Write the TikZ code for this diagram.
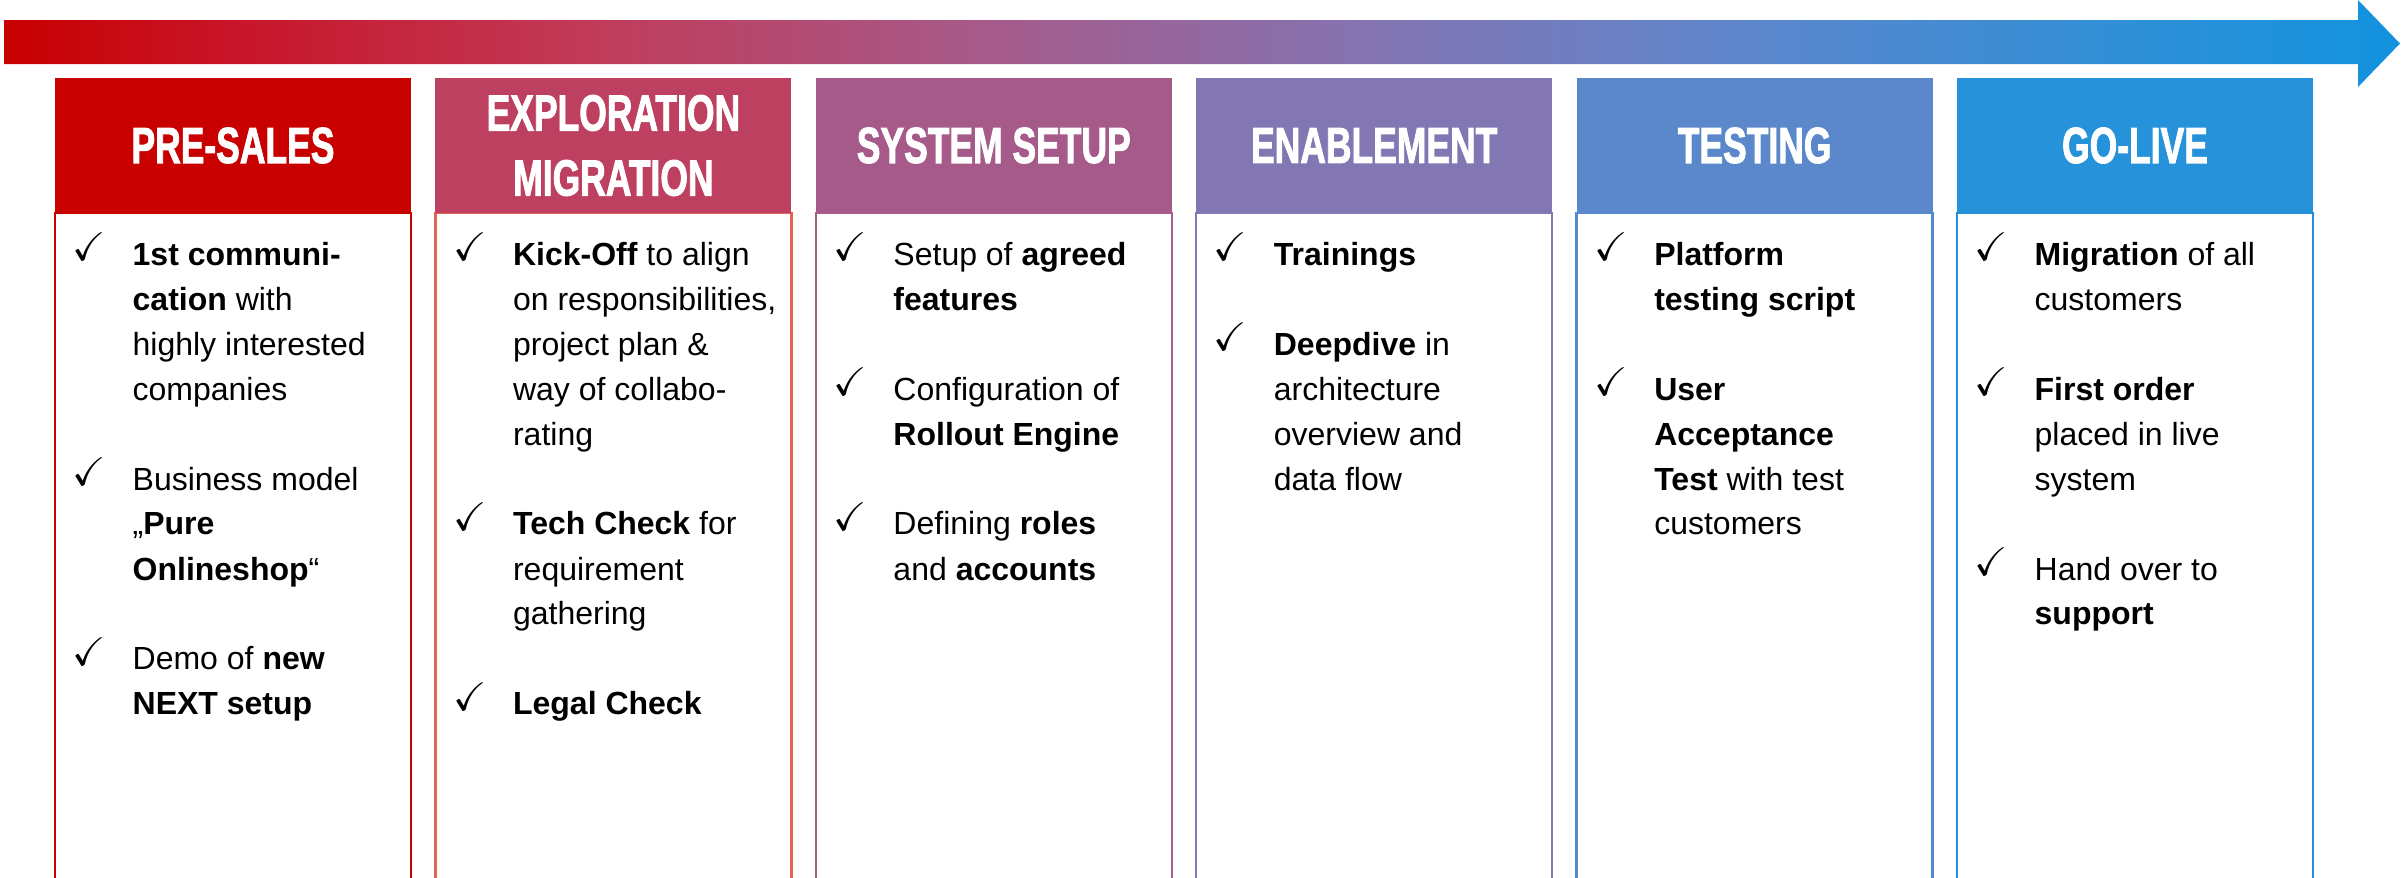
\documentclass[tikz,border=0pt]{standalone}
\usepackage{fontspec}
\usepackage{amssymb}
\usepackage{graphicx}
\setmainfont{Liberation Sans}
\newfontfamily\hdfont{Liberation Sans}[UprightFeatures={FakeBold=2.2}, BoldFeatures={FakeBold=2.2}]
\definecolor{h1}{RGB}{200,0,0}
\definecolor{h2}{RGB}{190,64,96}
\definecolor{h3}{RGB}{165,90,138}
\definecolor{h4}{RGB}{130,119,178}
\definecolor{h5}{RGB}{90,136,202}
\definecolor{h6}{RGB}{38,146,218}
\definecolor{b1}{RGB}{200,0,0}
\definecolor{b2}{RGB}{228,100,84}
\definecolor{b3}{RGB}{170,92,142}
\definecolor{b4}{RGB}{135,120,185}
\definecolor{b5}{RGB}{84,136,210}
\definecolor{b6}{RGB}{40,142,220}
\definecolor{g0}{RGB}{200,0,0}
\definecolor{g1}{RGB}{200,22,42}
\definecolor{g2}{RGB}{192,60,90}
\definecolor{g3}{RGB}{166,90,138}
\definecolor{g4}{RGB}{132,116,178}
\definecolor{g5}{RGB}{92,134,204}
\definecolor{g6}{RGB}{46,144,215}
\definecolor{g7}{RGB}{18,146,222}
\pgfdeclarehorizontalshading{tlshade}{100bp}{color(0bp)=(g0); color(25bp)=(g0); color(30bp)=(g1); color(37.5bp)=(g2); color(45.5bp)=(g3); color(53.5bp)=(g4); color(61.5bp)=(g5); color(69.5bp)=(g6); color(75bp)=(g7); color(100bp)=(g7)}
\newcommand\hd[1]{\scalebox{0.70}[1]{#1}}
\newcommand\ck{\smash{\raisebox{1.4pt}{\scalebox{1.25}{$\checkmark$}}}}
\begin{document}
\begin{tikzpicture}[x=0.3pt,y=-0.3pt,
  hbox/.style={draw=none, inner sep=0, minimum width=106.8pt, minimum height=40.5pt,
    text=white, align=center, font=\fontsize{15.2}{19.5}\selectfont\hdfont\bfseries},
  bbox/.style={fill=white, line width=0.75pt, inner sep=0, minimum width=106.8pt, minimum height=206pt},
  btext/.style={anchor=base west, inner sep=0, font=\fontsize{9.6}{13.5}\selectfont}]
\useasboundingbox (0,0) rectangle (2402,878);
\clip (0,0) rectangle (2402,878);
% timeline arrow
\shade[shading=tlshade] (4,20) -- (2358,20) -- (2358,0) -- (2400,43.5) -- (2358,87) -- (2358,64) -- (4,64) -- cycle;
% body boxes
\node (bd1) [bbox, draw=b1] at (233,556.5) {};
\node (bd2) [bbox, draw=b2] at (613.4,556.5) {};
\node (bd3) [bbox, draw=b3] at (993.8,556.5) {};
\node (bd4) [bbox, draw=b4] at (1374.2,556.5) {};
\node (bd5) [bbox, draw=b5] at (1754.6,556.5) {};
\node (bd6) [bbox, draw=b6] at (2135,556.5) {};
% headers
\node (hd1) [hbox, fill=h1] at (233,145.5) {\hd{PRE-SALES}};
\node (hd2) [hbox, fill=h2] at (613.4,145.5) {\hd{EXPLORATION}\\\hd{MIGRATION}};
\node (hd3) [hbox, fill=h3] at (993.8,145.5) {\hd{SYSTEM SETUP}};
\node (hd4) [hbox, fill=h4] at (1374.2,145.5) {\hd{ENABLEMENT}};
\node (hd5) [hbox, fill=h5] at (1754.6,145.5) {\hd{TESTING}};
\node (hd6) [hbox, fill=h6] at (2135,145.5) {\hd{GO-LIVE}};
% texts
\node (tx1) [btext] at (72,265) {\begin{tabular}[t]{@{}p{18pt}@{}l@{}}
\ck & \textbf{1st communi-}\\
 & \textbf{cation} with\\
 & highly interested\\
 & companies\\
 & \\
\ck & Business model\\
 & „\textbf{Pure}\\
 & \textbf{Onlineshop}“\\
 & \\
\ck & Demo of \textbf{new}\\
 & \textbf{NEXT setup}
\end{tabular}};
\node (tx2) [btext] at (452.4,265) {\begin{tabular}[t]{@{}p{18pt}@{}l@{}}
\ck & \textbf{Kick-Off} to align\\
 & on responsibilities,\\
 & project plan \&\\
 & way of collabo-\\
 & rating\\
 & \\
\ck & \textbf{Tech Check} for\\
 & requirement\\
 & gathering\\
 & \\
\ck & \textbf{Legal Check}
\end{tabular}};
\node (tx3) [btext] at (832.8,265) {\begin{tabular}[t]{@{}p{18pt}@{}l@{}}
\ck & Setup of \textbf{agreed}\\
 & \textbf{features}\\
 & \\
\ck & Configuration of\\
 & \textbf{Rollout Engine}\\
 & \\
\ck & Defining \textbf{roles}\\
 & and \textbf{accounts}
\end{tabular}};
\node (tx4) [btext] at (1213.2,265) {\begin{tabular}[t]{@{}p{18pt}@{}l@{}}
\ck & \textbf{Trainings}\\
 & \\
\ck & \textbf{Deepdive} in\\
 & architecture\\
 & overview and\\
 & data flow
\end{tabular}};
\node (tx5) [btext] at (1593.6,265) {\begin{tabular}[t]{@{}p{18pt}@{}l@{}}
\ck & \textbf{Platform}\\
 & \textbf{testing script}\\
 & \\
\ck & \textbf{User}\\
 & \textbf{Acceptance}\\
 & \textbf{Test} with test\\
 & customers
\end{tabular}};
\node (tx6) [btext] at (1974,265) {\begin{tabular}[t]{@{}p{18pt}@{}l@{}}
\ck & \textbf{Migration} of all\\
 & customers\\
 & \\
\ck & \textbf{First order}\\
 & placed in live\\
 & system\\
 & \\
\ck & Hand over to\\
 & \textbf{support}
\end{tabular}};
\end{tikzpicture}
\end{document}
